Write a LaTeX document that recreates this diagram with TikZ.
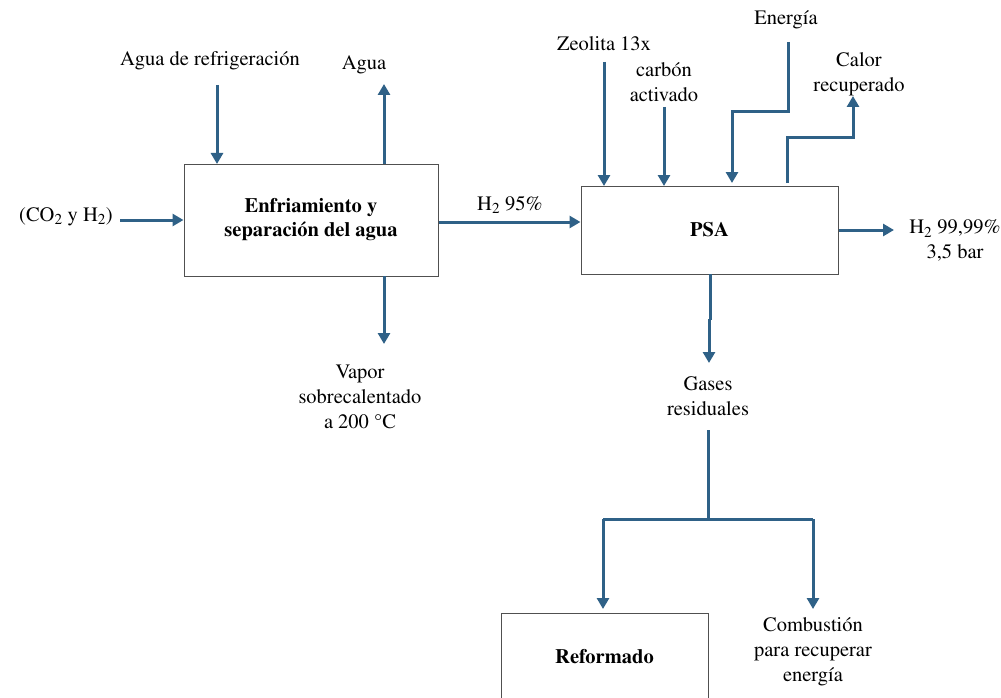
\documentclass[tikz,border=0pt]{standalone}
\usepackage[T1]{fontenc}
\usepackage{mathptmx}
\usepackage{textcomp}
\usetikzlibrary{arrows.meta}
\definecolor{flowc}{HTML}{2F6187}
\definecolor{boxline}{HTML}{505050}
\begin{document}
\begin{tikzpicture}[x=1pt,y=-1pt,
  every node/.style={font=\fontsize{20.5}{25}\selectfont, inner sep=0pt, align=center},
  unit/.style={draw=boxline, line width=1pt, font=\fontsize{20.5}{24}\selectfont\bfseries},
  flow/.style={draw=flowc, line width=3pt, -{Triangle[length=11pt,width=12pt]}},
  pipe/.style={draw=flowc, line width=3pt}]
\clip (0,0) rectangle (1001,698);
\fill[white] (0,0) rectangle (1001,698);

% process units
\node[unit, minimum width=254pt, minimum height=112pt] (cool) at (311,220) {Enfriamiento y\\separación del agua};
\node[unit, minimum width=257pt, minimum height=88pt] (psa) at (709.5,230) {PSA};
\node[unit, minimum width=207pt, minimum height=100pt] (reform) at (604.5,663) {};
\node[font=\fontsize{20.5}{24}\selectfont\bfseries] (reformtxt) at (604.5,657) {Reformado};

% stream labels
\node (feed) at (66,217) {(CO\textsubscript{2} y H\textsubscript{2})};
\node (coolw) at (210,61) {Agua de refrigeración};
\node (water) at (364,65) {Agua};
\node (steam) at (360,397) {Vapor\\sobrecalentado\\a 200 \textdegree C};
\node (h95) at (510,205) {H\textsubscript{2} 95\%};
\node (zeo) at (604,44) {Zeolita 13x};
\node (carb) at (664,82) {carbón\\activado};
\node (ener) at (786,20) {Energía};
\node (heat) at (859,74) {Calor\\recuperado};
\node (prod) at (955,241) {H\textsubscript{2} 99,99\%\\3,5 bar};
\node (waste) at (708,396) {Gases\\residuales};
\node (comb) at (813,652) {Combustión\\para recuperar\\energía};

% cooling and water separation
\draw[flow] (120,220) -- (cool.west |- 0,220);
\draw[flow] (217,85) -- (217,164);
\draw[flow] (384,164) -- (384,84);
\draw[flow] (384,276) -- (384,344);
\draw[flow] (cool.east |- 0,222) -- (psa.west |- 0,222);

% PSA inputs and outputs
\draw[flow] (604,62) -- (604,186);
\draw[flow] (664,107) -- (664,186);
\coordinate (e1) at (788,42);
\coordinate (e2) at (788,112);
\coordinate (e3) at (732,112);
\draw[flow] (e1) -- (e2) -- (e3) -- (732,183);
\coordinate (h1) at (787,183);
\coordinate (h2) at (787,138);
\coordinate (h3) at (853,138);
\draw[flow] (h1) -- (h2) -- (h3) -- (853,96);
\draw[flow] (psa.east |- 0,230) -- (894,230);
\coordinate (p1) at (710,320);
\draw[pipe] (710,274) -- (p1);
\draw[flow] (709,319) -- (709,363);

% waste gas split
\coordinate (w1) at (708,430);
\coordinate (split) at (708,519);
\coordinate (sl) at (603,519);
\coordinate (sr) at (813,519);
\draw[pipe] (w1) -- (split);
\draw[pipe] (sl) -- (sr);
\draw[flow] (sl) -- (603,609);
\draw[flow] (sr) -- (813,609);
\end{tikzpicture}
\end{document}
